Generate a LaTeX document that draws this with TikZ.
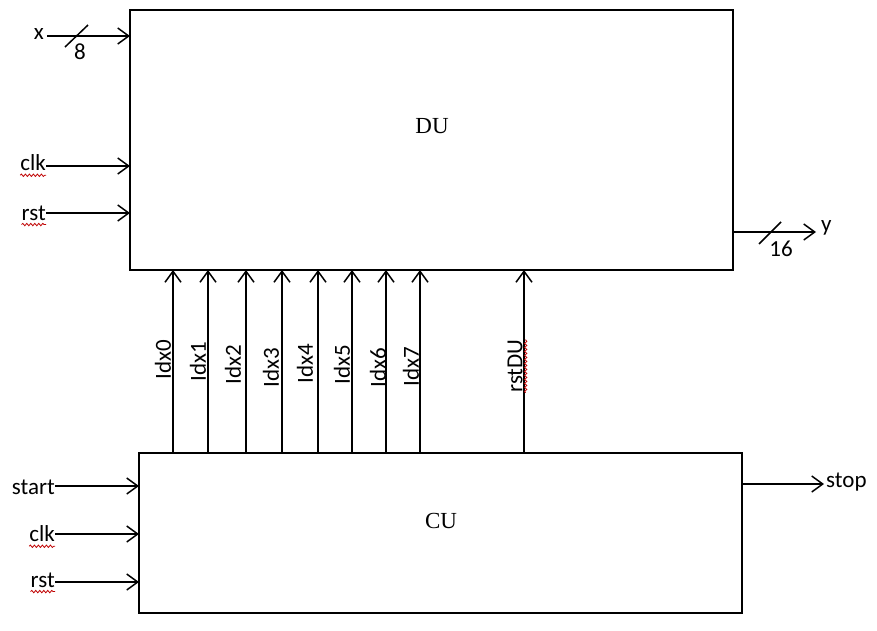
\documentclass[tikz,border=0pt]{standalone}
\usepackage{fontspec}
\setmainfont{Carlito}
\newfontfamily\seriffont{Liberation Serif}
\usetikzlibrary{arrows.meta,decorations.pathmorphing}
\tikzset{
  blockbox/.style={draw, line width=1.5pt, inner sep=0pt},
  blocklbl/.style={inner sep=0pt, font=\seriffont\fontsize{23}{27}\selectfont},
  sig/.style={line width=1.5pt, -{Straight Barb[length=11pt,width=16pt,line width=1.5pt]}},
  lbl/.style={inner sep=0pt, font=\fontsize{23}{27}\selectfont},
  vlbl/.style={lbl, rotate=90},
  busslash/.style={line width=1.5pt},
  squig/.style={draw=red!75!black, line width=0.8pt, decorate, decoration={snake, amplitude=1.2pt, segment length=4pt}}
}
\begin{document}
\begin{tikzpicture}[x=1pt,y=-1pt]
\useasboundingbox (0,0) rectangle (877,630);
% blocks
\node[blockbox, minimum width=603pt, minimum height=260pt] (du) at (431.5,140) {};
\node[blocklbl] (dulbl) at (432,126) {DU};
\node[blockbox, minimum width=603pt, minimum height=160pt] (cu) at (440.5,533) {};
\node[blocklbl] (culbl) at (441,521) {CU};
% DU inputs
\node[lbl, anchor=east] (x) at (44,34) {x};
\coordinate (xs) at (47,36);
\coordinate (xe) at (130,36);
\draw[sig] (xs) -- (xe);
\coordinate (xb1) at (65,47); \coordinate (xb2) at (88,25);
\draw[busslash] (xb1) -- (xb2);
\node[lbl] (x8) at (80,52) {8};
\node[lbl, anchor=east] (clkdu) at (46,163) {clk};
\coordinate (clkdue) at (130,166);
\draw[sig] (clkdu.east |- clkdue) -- (clkdue);
\node[lbl, anchor=east] (rstdu) at (46,213) {rst};
\coordinate (rstdue) at (130,213);
\draw[sig] (rstdu.east |- rstdue) -- (rstdue);
% DU output
\coordinate (ys) at (733,232);
\coordinate (ye) at (816,232);
\draw[sig] (ys) -- (ye);
\coordinate (yb1) at (759,244); \coordinate (yb2) at (781,222);
\draw[busslash] (yb1) -- (yb2);
\node[lbl] (y16) at (781,249) {16};
\node[lbl, anchor=west] (y) at (821,228) {y};
% Idx lines
\foreach \xx/\lx/\ly/\n in {173/163/360/0, 208/198/362/1, 246/233/365/2, 282/271/368/3, 318/305/364/4, 352/342/365/5, 386/378/368/6, 420/411/367/7}{
  \coordinate (idxs\n) at (\xx,453);
  \coordinate (idxe\n) at (\xx,270);
  \draw[sig] (idxs\n) -- (idxe\n);
  \node[vlbl] (idx\n) at (\lx,\ly) {Idx\n};
}
\coordinate (rsts) at (524,453);
\coordinate (rste) at (524,270);
\draw[sig] (rsts) -- (rste);
\node[vlbl] (rstdulbl) at (515,366) {rstDU};
% CU inputs
\node[lbl, anchor=east] (start) at (55,487) {start};
\coordinate (starte) at (139,486);
\draw[sig] (start.east |- starte) -- (starte);
\node[lbl, anchor=east] (clkcu) at (55,534) {clk};
\coordinate (clkcue) at (139,534);
\draw[sig] (clkcu.east |- clkcue) -- (clkcue);
\node[lbl, anchor=east] (rstcu) at (55,580) {rst};
\coordinate (rstcue) at (139,582);
\draw[sig] (rstcu.east |- rstcue) -- (rstcue);
% CU output
\coordinate (stops) at (742,484);
\coordinate (stope) at (824,484);
\draw[sig] (stops) -- (stope);
\node[lbl, anchor=west] (stop) at (826,482) {stop};
% spell-check squiggles
\draw[squig] ([yshift=-4pt]clkdu.south west) -- ([yshift=-4pt]clkdu.south east);
\draw[squig] ([yshift=-4pt]rstdu.south west) -- ([yshift=-4pt]rstdu.south east);
\draw[squig] ([yshift=-4pt]clkcu.south west) -- ([yshift=-4pt]clkcu.south east);
\draw[squig] ([yshift=-4pt]rstcu.south west) -- ([yshift=-4pt]rstcu.south east);
\draw[squig] ([xshift=3pt]rstdulbl.south west) -- ([xshift=3pt]rstdulbl.south east);
\end{tikzpicture}
\end{document}
